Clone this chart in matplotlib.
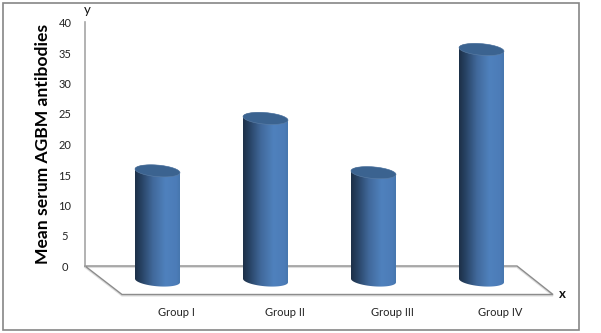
import numpy as np
import matplotlib
matplotlib.use("Agg")
import matplotlib.pyplot as plt
from matplotlib.colors import LinearSegmentedColormap
from matplotlib.path import Path
from matplotlib.patches import PathPatch, Rectangle

# Data
groups = ["Group I", "Group II", "Group III", "Group IV"]
antibodies = [15.6, 24.2, 15.3, 35.5]
y_ticks = [0, 5, 10, 15, 20, 25, 30, 35, 40]

W, H = 601, 333
px_x = 108.0      # pixels per category
px_y = 6.1        # pixels per unit
x0_px = 157.5     # first bar centre
y0_px = 266.0     # value 0 on the back wall

plt.rcParams["font.family"] = ["Lato", "DejaVu Sans"]

fig = plt.figure(figsize=(W / 100, H / 100), dpi=100, facecolor="white")
ax = fig.add_axes([0, 0, 1, 1])
ax.set_xlim(-x0_px / px_x, (W - x0_px) / px_x)
ax.set_ylim((y0_px - H) / px_y, y0_px / px_y)
ax.axis("off")


# helpers: pixel offsets to data units
def dx(p):
    return p / px_x


def dy(p):
    return p / px_y


# outer frame
ax.add_patch(Rectangle((dx(2.5 - x0_px), dy(y0_px - 330)), dx(576.5), dy(327.5),
                       fill=False, ec="#868686", lw=1.2, zorder=1))

# floor, shadow first and then the line
wall_left = dx(85 - x0_px)
wall_right = dx(517 - x0_px)
front_left = dx(122 - x0_px)
front_right = dx(553 - x0_px)
front_y = dy(-28.5)
for off, col, lw in [(-1.2, "#dddddd", 1.2), (0, "#8c8c8c", 1.0)]:
    ax.plot([wall_left, front_left, front_right, wall_right, wall_left],
            [0 + dy(off), front_y + dy(off), front_y + dy(off), 0 + dy(off), 0 + dy(off)],
            color=col, lw=lw, zorder=2, solid_joinstyle="miter")
ax.plot([wall_left, wall_left], [0, y_ticks[-1]], color="#a6a6a6", lw=1.2, zorder=2)

# cylinders
body_cmap = LinearSegmentedColormap.from_list(
    "body", [(0, "#1d3047"), (0.12, "#253f5f"), (0.4, "#41699b"),
             (0.68, "#4f81bd"), (0.92, "#4c7cb8"), (1, "#4777ae")])
gradient = np.linspace(0, 1, 256).reshape(1, -1)

a = dx(22.5)      # half width
b = dy(5.8)       # half height of the ellipse
shear = dy(-1.8)  # the ellipses lean down to the right
base = dy(-14.5)  # bars stand in the middle of the floor

for i, v in enumerate(antibodies):
    t_top = np.linspace(np.pi, 0, 40)
    t_bot = np.linspace(0, -np.pi, 40)
    xs = np.r_[i + a * np.cos(t_top), i + a * np.cos(t_bot)]
    ys = np.r_[v + b * np.sin(t_top) + shear * np.cos(t_top),
               base + b * np.sin(t_bot) + shear * np.cos(t_bot)]
    clip = PathPatch(Path(np.c_[xs, ys]), transform=ax.transData, fc="none", ec="none")
    ax.add_patch(clip)
    im = ax.imshow(gradient, cmap=body_cmap, aspect="auto", zorder=3,
                   extent=[i - a, i + a, base - 2, v + 2], interpolation="bilinear")
    im.set_clip_path(clip)

    # top cap
    t = np.linspace(0, 2 * np.pi, 80)
    ax.fill(i + a * np.cos(t), v + b * np.sin(t) + shear * np.cos(t),
            fc="#3b6390", ec="#5d7fa6", lw=0.4, zorder=4)

# keep limits after imshow
ax.set_xlim(-x0_px / px_x, (W - x0_px) / px_x)
ax.set_ylim((y0_px - H) / px_y, y0_px / px_y)

# tick labels
for t in y_ticks:
    ax.text(dx(65 - x0_px), t + dy(-1.5), str(t), ha="center", va="center", fontsize=8,
            color="#222222", zorder=5)
for i, g in enumerate(groups):
    ax.text(i + dx(19), dy(y0_px - 312.5), g, ha="center", va="center", fontsize=8,
            color="#222222", zorder=5)

ax.text(dx(43 - x0_px), dy(y0_px - 143.5), "Mean serum AGBM antibodies", rotation=90,
        ha="center", va="center", fontsize=12.6, fontweight="bold", color="black", zorder=5)
ax.text(dx(87 - x0_px), dy(y0_px - 10.5), "y", ha="center", va="center", fontsize=9.5,
        color="#111111", zorder=5)
ax.text(dx(562.5 - x0_px), dy(y0_px - 294), "x", ha="center", va="center", fontsize=9.5,
        fontweight="bold", color="#111111", zorder=5)

fig.savefig("out.png", dpi=100)
